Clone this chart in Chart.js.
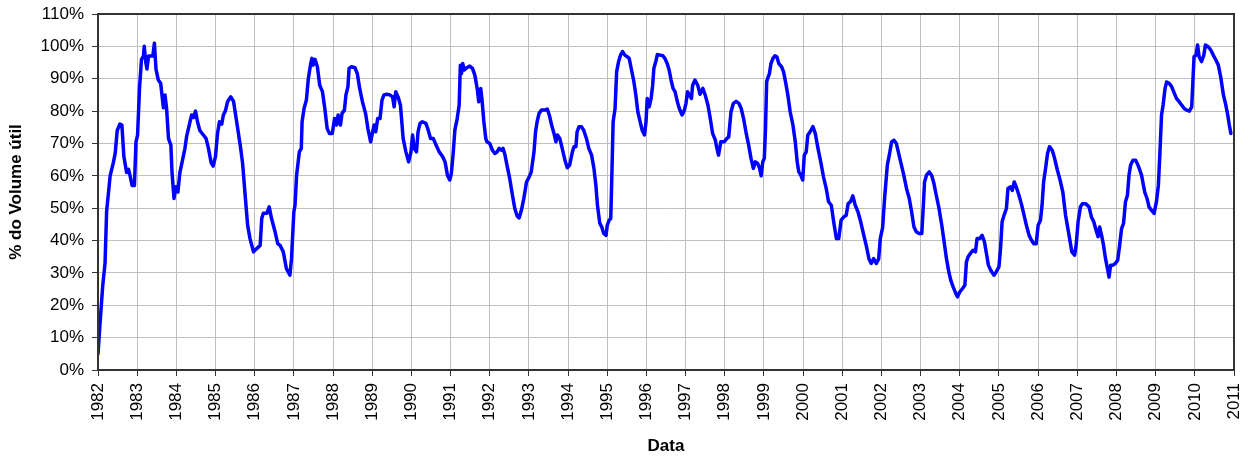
<!DOCTYPE html>
<html lang="pt-br">
<head>
<meta charset="UTF-8">
<title>% do Volume útil</title>
<script src="https://cdn.jsdelivr.net/npm/chart.js"></script>
<style>
  html, body { margin: 0; padding: 0; background: #fff; }
  #wrap { width: 1248px; height: 457px; }
</style>
</head>
<body>
<div id="wrap"><canvas id="volChart"></canvas></div>
<script>
// datas (ano decimal)
const datas = [
  1982.00, 1982.05, 1982.12, 1982.18, 1982.22, 1982.31, 1982.39, 1982.44, 1982.49, 1982.56,
  1982.61, 1982.66, 1982.73, 1982.78, 1982.82, 1982.87, 1982.93, 1982.97, 1983.01, 1983.06,
  1983.11, 1983.16, 1983.18, 1983.22, 1983.25, 1983.29, 1983.34, 1983.40, 1983.44, 1983.48,
  1983.54, 1983.60, 1983.67, 1983.71, 1983.75, 1983.80, 1983.86, 1983.89, 1983.94, 1983.99,
  1984.04, 1984.09, 1984.16, 1984.22, 1984.26, 1984.33, 1984.39, 1984.44, 1984.49, 1984.54,
  1984.60, 1984.69, 1984.76, 1984.82, 1984.89, 1984.94, 1985.00, 1985.05, 1985.10, 1985.16,
  1985.20, 1985.25, 1985.31, 1985.39, 1985.46, 1985.54, 1985.63, 1985.69, 1985.75, 1985.82,
  1985.88, 1985.97, 1986.05, 1986.14, 1986.18, 1986.22, 1986.31, 1986.37, 1986.43, 1986.52,
  1986.59, 1986.65, 1986.73, 1986.81, 1986.90, 1986.94, 1987.00, 1987.03, 1987.07, 1987.14,
  1987.19, 1987.21, 1987.26, 1987.32, 1987.37, 1987.43, 1987.46, 1987.49, 1987.54, 1987.60,
  1987.66, 1987.73, 1987.79, 1987.85, 1987.91, 1987.98, 1988.04, 1988.09, 1988.13, 1988.19,
  1988.23, 1988.29, 1988.33, 1988.38, 1988.41, 1988.47, 1988.56, 1988.62, 1988.68, 1988.75,
  1988.83, 1988.89, 1988.96, 1989.01, 1989.05, 1989.09, 1989.14, 1989.20, 1989.25, 1989.30,
  1989.37, 1989.45, 1989.52, 1989.56, 1989.60, 1989.66, 1989.72, 1989.79, 1989.86, 1989.93,
  1989.99, 1990.03, 1990.07, 1990.13, 1990.17, 1990.22, 1990.28, 1990.37, 1990.43, 1990.49,
  1990.56, 1990.63, 1990.71, 1990.80, 1990.86, 1990.92, 1990.98, 1991.02, 1991.07, 1991.11,
  1991.17, 1991.22, 1991.25, 1991.28, 1991.31, 1991.35, 1991.41, 1991.49, 1991.56, 1991.62,
  1991.68, 1991.72, 1991.77, 1991.80, 1991.85, 1991.90, 1991.93, 1992.00, 1992.07, 1992.13,
  1992.19, 1992.24, 1992.30, 1992.34, 1992.39, 1992.44, 1992.51, 1992.58, 1992.64, 1992.70,
  1992.75, 1992.81, 1992.87, 1992.94, 1993.01, 1993.06, 1993.13, 1993.17, 1993.21, 1993.26,
  1993.32, 1993.41, 1993.47, 1993.52, 1993.58, 1993.64, 1993.69, 1993.73, 1993.79, 1993.85,
  1993.92, 1993.98, 1994.04, 1994.11, 1994.15, 1994.20, 1994.23, 1994.28, 1994.34, 1994.40,
  1994.47, 1994.53, 1994.60, 1994.66, 1994.71, 1994.75, 1994.81, 1994.86, 1994.91, 1994.97,
  1995.00, 1995.05, 1995.09, 1995.12, 1995.15, 1995.20, 1995.24, 1995.29, 1995.34, 1995.39,
  1995.45, 1995.51, 1995.56, 1995.62, 1995.68, 1995.73, 1995.78, 1995.83, 1995.89, 1995.95,
  1995.99, 1996.02, 1996.07, 1996.12, 1996.16, 1996.19, 1996.24, 1996.28, 1996.35, 1996.42,
  1996.47, 1996.53, 1996.58, 1996.63, 1996.68, 1996.73, 1996.79, 1996.84, 1996.91, 1996.97,
  1997.01, 1997.05, 1997.09, 1997.15, 1997.18, 1997.24, 1997.31, 1997.37, 1997.44, 1997.50,
  1997.57, 1997.63, 1997.69, 1997.76, 1997.79, 1997.84, 1997.90, 1997.99, 1998.05, 1998.10,
  1998.16, 1998.22, 1998.29, 1998.36, 1998.42, 1998.48, 1998.54, 1998.61, 1998.67, 1998.73,
  1998.78, 1998.84, 1998.89, 1998.93, 1998.97, 1999.01, 1999.04, 1999.07, 1999.11, 1999.14,
  1999.18, 1999.23, 1999.28, 1999.33, 1999.38, 1999.45, 1999.50, 1999.55, 1999.61, 1999.67,
  1999.74, 1999.80, 1999.85, 1999.89, 1999.94, 1999.99, 2000.03, 2000.08, 2000.12, 2000.18,
  2000.25, 2000.31, 2000.38, 2000.45, 2000.52, 2000.59, 2000.65, 2000.72, 2000.78, 2000.85,
  2000.91, 2000.97, 2001.04, 2001.10, 2001.15, 2001.21, 2001.27, 2001.33, 2001.40, 2001.47,
  2001.55, 2001.62, 2001.68, 2001.74, 2001.80, 2001.87, 2001.93, 2001.97, 2002.03, 2002.08,
  2002.15, 2002.20, 2002.26, 2002.32, 2002.38, 2002.45, 2002.51, 2002.57, 2002.64, 2002.71,
  2002.77, 2002.83, 2002.89, 2002.96, 2003.03, 2003.07, 2003.10, 2003.15, 2003.22, 2003.28,
  2003.34, 2003.40, 2003.47, 2003.54, 2003.60, 2003.66, 2003.72, 2003.77, 2003.83, 2003.90,
  2003.94, 2004.00, 2004.07, 2004.13, 2004.17, 2004.21, 2004.27, 2004.34, 2004.40, 2004.44,
  2004.51, 2004.57, 2004.63, 2004.68, 2004.73, 2004.79, 2004.87, 2004.93, 2005.00, 2005.04,
  2005.08, 2005.13, 2005.19, 2005.23, 2005.29, 2005.34, 2005.39, 2005.44, 2005.51, 2005.57,
  2005.63, 2005.70, 2005.77, 2005.83, 2005.89, 2005.95, 2006.00, 2006.06, 2006.10, 2006.14,
  2006.19, 2006.24, 2006.29, 2006.36, 2006.42, 2006.49, 2006.55, 2006.63, 2006.70, 2006.79,
  2006.86, 2006.93, 2006.97, 2007.02, 2007.08, 2007.13, 2007.21, 2007.30, 2007.36, 2007.42,
  2007.49, 2007.53, 2007.57, 2007.62, 2007.67, 2007.72, 2007.77, 2007.81, 2007.85, 2007.91,
  2007.97, 2008.03, 2008.08, 2008.13, 2008.18, 2008.23, 2008.28, 2008.32, 2008.36, 2008.42,
  2008.49, 2008.55, 2008.64, 2008.72, 2008.78, 2008.83, 2008.89, 2008.96, 2009.02, 2009.07,
  2009.11, 2009.15, 2009.19, 2009.24, 2009.28, 2009.35, 2009.41, 2009.46, 2009.53, 2009.60,
  2009.66, 2009.73, 2009.79, 2009.86, 2009.92, 2009.95, 2009.98, 2010.03, 2010.07, 2010.11,
  2010.17, 2010.23, 2010.27, 2010.34, 2010.41, 2010.47, 2010.54, 2010.60, 2010.66, 2010.73,
  2010.79, 2010.84, 2010.88, 2010.92
];

// % do volume útil
const volumeUtil = [
  5, 14, 26, 33, 49, 60, 64, 67, 74, 76,
  75.7, 66, 61, 62, 60, 57, 57, 70.5, 72.6, 87,
  96, 97, 100, 95, 93, 97, 97, 97, 101, 93,
  89.6, 88.6, 81, 85, 81, 71.5, 69.5, 61, 53, 56.6,
  55, 61, 65, 68.5, 72, 75.7, 78.8, 78, 80, 76.7,
  74, 72.6, 71.5, 68.5, 64, 63, 66, 73, 76.7, 76,
  78.8, 80, 83, 84.4, 83, 76.7, 69.5, 64, 55, 44.7,
  40.6, 36.5, 37.5, 38.5, 46.8, 48.4, 48.4, 50.4, 46.8, 42.7,
  39, 38.5, 36.5, 31.3, 29.3, 34.4, 48.9, 50.9, 60.2, 67.4,
  68.5, 76.7, 80.8, 83.4, 90.1, 94.7, 96.3, 94.2, 96, 93.7,
  88, 86, 80.8, 74.6, 73.1, 73.1, 77.7, 75.7, 78.8, 75.7,
  79.3, 80.3, 85, 87.5, 93.2, 93.7, 93.4, 91.6, 87, 82.9,
  79.3, 74.6, 70.5, 73.6, 75.7, 73.6, 77.7, 77.7, 83.4, 85,
  85.2, 85, 84.4, 81.3, 86, 84.4, 81.9, 71.5, 67.4, 64.3,
  67.4, 72.6, 68.5, 67.4, 73.6, 76.2, 76.7, 76.2, 74.1, 71.5,
  71.5, 69.5, 67.4, 65.9, 64.3, 60.2, 58.7, 60.7, 67.4, 74.1,
  77.7, 81.9, 94.2, 91.6, 94.7, 92.7, 93.4, 93.9, 93.2, 91.1,
  87, 82.9, 87, 83.9, 76.7, 71.5, 70.5, 70, 67.9, 66.9,
  67.4, 68.5, 67.9, 68.5, 66.4, 63.3, 59.2, 54, 49.9, 47.6,
  47, 49.4, 53, 58.1, 59.7, 61.2, 67.4, 73.6, 76.7, 79.3,
  80.3, 80.3, 80.6, 78.8, 75.7, 73.1, 70.5, 72.6, 71.5, 68.5,
  64.8, 62.5, 63.3, 67.4, 69, 69, 73.6, 75.2, 75.2, 74.1,
  71.5, 68.5, 66.4, 62.3, 57.1, 50.9, 45.3, 44.2, 42.2, 41.6,
  44.7, 46.3, 46.8, 61.2, 76.7, 80.8, 92.2, 95.3, 97.3, 98.4,
  97.3, 96.8, 96.3, 92.7, 89.1, 85, 79.8, 77.2, 74.1, 72.6,
  76.7, 83.9, 81.3, 83.9, 88, 93.2, 95.3, 97.5, 97.3, 97.1,
  96.3, 94.7, 92.7, 89.6, 87, 86, 82.9, 80.8, 78.8, 80.3,
  82.4, 86, 85, 83.9, 88, 89.6, 88, 85.2, 87, 85,
  81.9, 77.7, 73.1, 71, 69, 66.4, 70.5, 70.5, 71.5, 72,
  79.8, 82.4, 83, 82.4, 80.8, 77.7, 73.6, 69.5, 65.4, 62.3,
  64.3, 63.8, 62.3, 60, 64.3, 65.4, 74.6, 89.1, 90.6, 91.6,
  94.7, 96.3, 97.1, 96.8, 94.7, 93.7, 92.2, 89.1, 85, 79.8,
  75.7, 70.5, 64.3, 61.2, 60.2, 58.7, 66.4, 67.4, 72.6, 73.6,
  75.2, 73.1, 68.5, 64.3, 59.7, 56.1, 52, 50.9, 45.8, 40.6,
  40.6, 46.3, 47.3, 47.8, 51.4, 52, 53.8, 50.9, 48.9, 45.8,
  41.6, 38, 34.4, 32.9, 34.4, 32.9, 34.4, 40.6, 44, 53,
  63.3, 66.4, 70.5, 71, 70, 66.4, 63.3, 60.2, 56.1, 53,
  48.9, 44.2, 42.7, 42.2, 42.2, 50.9, 58.1, 60.2, 61.2, 60.2,
  57.6, 54, 49.9, 44.7, 39.6, 34.4, 30.3, 27.7, 25.7, 23.6,
  22.6, 24.1, 25.2, 26.2, 33.4, 34.9, 36, 37, 36.5, 40.6,
  40.6, 41.6, 39.6, 36, 32.4, 30.8, 29.3, 30.3, 31.9, 37.5,
  45.8, 47.8, 49.9, 56.1, 56.6, 55.5, 58.1, 56.6, 54, 51.4,
  48.4, 44.7, 41.6, 40.1, 39, 39, 44.7, 46.3, 50.9, 58.1,
  62.3, 66.9, 69, 67.9, 65.4, 61.8, 59.2, 55, 47.8, 41.6,
  36.5, 35.5, 38.5, 45.8, 50.4, 51.4, 51.4, 50.4, 47.3, 45.8,
  42.7, 41.2, 44.2, 41.6, 38.5, 34.4, 31.3, 28.7, 32.4, 32.4,
  32.9, 33.9, 38.5, 43.7, 45.3, 52, 54, 60.2, 63.3, 64.8,
  64.8, 63.3, 60.2, 55, 53, 50.4, 49.4, 48.4, 52, 57.1,
  67.4, 78.8, 81.9, 87, 89, 88.5, 87.5, 86, 83.9, 82.9,
  81.9, 80.8, 80.3, 80, 81.3, 89, 96.8, 97.3, 100.4, 96.8,
  95.3, 97.3, 100.4, 99.9, 98.8, 97.3, 95.7, 94.2, 90.6, 85,
  81.9, 78.8, 75.7, 73.1
];

const anoInicio = 1982;
const anoFim = 2011;
const yMax = 110;

const pontos = datas.map((d, i) => ({ x: d, y: volumeUtil[i] }));

const fonte = { family: "'Liberation Sans', Arial, sans-serif", size: 17 };

// moldura em volta da área do gráfico
const moldura = {
  id: 'moldura',
  afterDraw(chart) {
    const a = chart.chartArea;
    const c = chart.ctx;
    c.save();
    c.strokeStyle = '#333';
    c.lineWidth = 2;
    c.strokeRect(a.left, a.top, a.right - a.left, a.bottom - a.top);
    c.restore();
  }
};

const ctx = document.getElementById('volChart').getContext('2d');
new Chart(ctx, {
  type: 'line',
  data: {
    datasets: [{
      label: '% do Volume útil',
      data: pontos,
      borderColor: '#0000ff',
      borderWidth: 3.5,
      borderJoinStyle: 'round',
      borderCapStyle: 'round',
      pointRadius: 0,
      fill: false,
      tension: 0
    }]
  },
  options: {
    responsive: true,
    maintainAspectRatio: false,
    animation: false,
    layout: { padding: { top: 14, right: 14, left: 0, bottom: 0 } },
    plugins: {
      legend: { display: false },
      tooltip: { enabled: false }
    },
    scales: {
      x: {
        type: 'linear',
        min: anoInicio,
        max: anoFim,
        afterFit: (s) => { s.height = 87; s.paddingLeft = 0; s.paddingRight = 0; },
        ticks: {
          stepSize: 1,
          minRotation: 90,
          maxRotation: 90,
          padding: 7,
          color: '#000',
          font: fonte,
          callback: (v) => String(v)
        },
        grid: { color: '#c0c0c0', tickColor: '#333', tickLength: 6, lineWidth: 1 },
        border: { color: '#333', width: 2 },
        title: {
          display: true,
          text: 'Data',
          color: '#000',
          font: { family: fonte.family, size: 17, weight: 'bold' },
          padding: { top: 0, bottom: 0 }
        }
      },
      y: {
        min: 0,
        max: yMax,
        afterFit: (s) => { s.width = 98; s.paddingTop = 0; s.paddingBottom = 0; },
        ticks: {
          stepSize: 10,
          padding: 8,
          color: '#000',
          font: fonte,
          callback: (v) => v + '%'
        },
        grid: { color: '#c0c0c0', tickColor: '#333', tickLength: 6, lineWidth: 1 },
        border: { color: '#333', width: 2 },
        title: {
          display: true,
          text: '% do Volume útil',
          color: '#000',
          font: { family: fonte.family, size: 17, weight: 'bold' },
          padding: { top: 6, bottom: 0 }
        }
      }
    }
  },
  plugins: [moldura]
});
</script>
</body>
</html>
